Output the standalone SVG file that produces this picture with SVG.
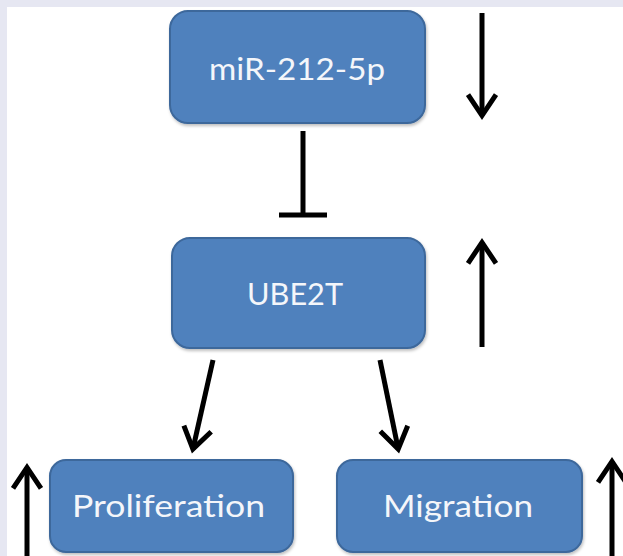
<svg xmlns="http://www.w3.org/2000/svg" width="623" height="556" viewBox="0 0 623 556">
  <style>
    .box { fill: #4f81bd; stroke: #3c679b; stroke-width: 2; filter: url(#shadow); }
    .label { fill: #f4f6fa; font-family: Lato, "Liberation Sans", sans-serif; font-size: 30px; text-anchor: middle; }
    .line { stroke: #000; stroke-width: 5; fill: none; stroke-linejoin: miter; }
  </style>
  <defs>
    <filter id="shadow" x="-10%" y="-10%" width="120%" height="130%">
      <feDropShadow dx="1" dy="2" stdDeviation="1.5" flood-color="#000" flood-opacity="0.25"/>
    </filter>
    <marker id="head" markerUnits="userSpaceOnUse" markerWidth="50" markerHeight="50" viewBox="-30 -25 50 50" refX="0" refY="0" orient="auto" overflow="visible">
      <path d="M-21,-14 L0,0 L-21,14" fill="none" stroke="#000" stroke-width="5" stroke-linejoin="miter"/>
    </marker>
  </defs>

  <!-- page background with light frame on top and left -->
  <rect x="0" y="0" width="623" height="556" fill="#e6e7f2"/>
  <rect x="7" y="7" width="616" height="549" fill="#ffffff"/>

  <!-- nodes -->
  <g id="mir212">
    <rect class="box" x="170" y="11" width="255" height="112" rx="18"/>
    <text class="label" x="297" y="80" textLength="176" lengthAdjust="spacingAndGlyphs">miR-212-5p</text>
  </g>
  <g id="ube2t">
    <rect class="box" x="172" y="238" width="253" height="110" rx="18"/>
    <text class="label" x="295" y="305" textLength="96" lengthAdjust="spacingAndGlyphs">UBE2T</text>
  </g>
  <g id="proliferation">
    <rect class="box" x="50" y="460" width="243" height="92" rx="16"/>
    <text class="label" x="168.5" y="517" textLength="193" lengthAdjust="spacingAndGlyphs">Proliferation</text>
  </g>
  <g id="migration">
    <rect class="box" x="337" y="460" width="245" height="92" rx="16"/>
    <text class="label" x="458" y="517" textLength="150" lengthAdjust="spacingAndGlyphs">Migration</text>
  </g>

  <!-- connectors -->
  <g id="connectors">
    <!-- inhibition: miR-212-5p -| UBE2T -->
    <line class="line" x1="303" y1="131" x2="303" y2="215"/>
    <line class="line" x1="279" y1="215" x2="327" y2="215"/>
    <!-- activation: UBE2T -> Proliferation, UBE2T -> Migration -->
    <line class="line" x1="213" y1="360" x2="192.9" y2="449.1" marker-end="url(#head)"/>
    <line class="line" x1="380" y1="360" x2="398.2" y2="449.1" marker-end="url(#head)"/>
  </g>

  <!-- level indicators (down = decreased, up = increased) -->
  <g id="indicators">
    <line class="line" x1="482" y1="13" x2="482" y2="115.6" marker-end="url(#head)"/>
    <line class="line" x1="482" y1="347" x2="482" y2="242.4" marker-end="url(#head)"/>
    <line class="line" x1="27" y1="556" x2="27" y2="467.4" marker-end="url(#head)"/>
    <line class="line" x1="612" y1="556" x2="612" y2="461.4" marker-end="url(#head)"/>
  </g>
</svg>
